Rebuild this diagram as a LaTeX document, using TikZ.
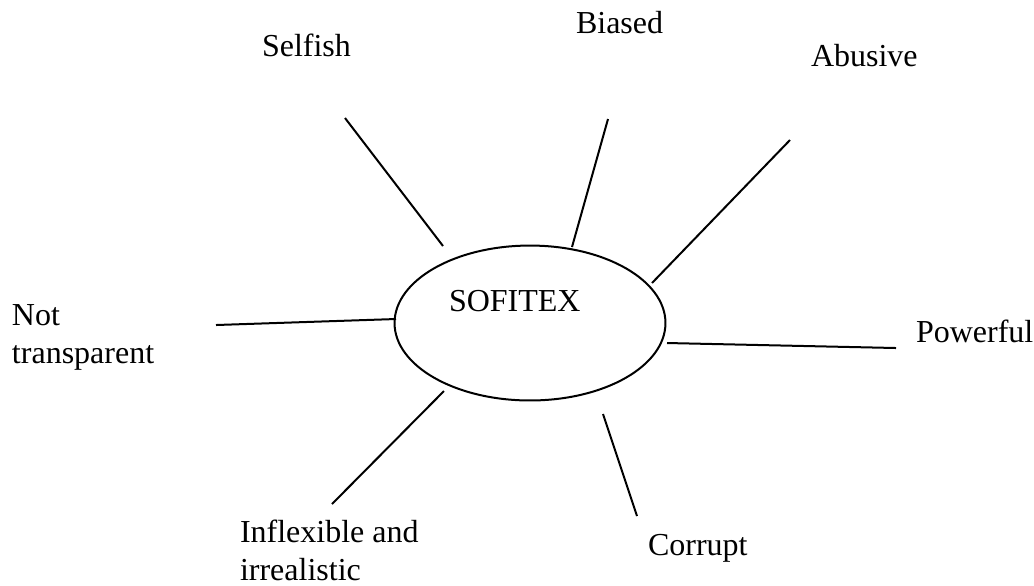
\documentclass[tikz,border=0pt]{standalone}
\usepackage{fontspec}
\setmainfont{Liberation Serif}
\usetikzlibrary{shapes.geometric}

\begin{document}
\begin{tikzpicture}[x=0.375pt,y=-0.375pt,line width=0.75pt,
  word/.style={inner sep=0pt,anchor=base west,align=left,
    font=\fontsize{12}{14.25}\selectfont}]

    \useasboundingbox (0,0) rectangle (1034,585);

    \node[ellipse,draw,inner sep=0pt,minimum width=101.6pt,minimum height=58.1pt] (sofitex) at (530,323) {};
    \node[word] (name) at (448,311) {SOFITEX};

    % two-line labels are placed by the baseline of their last line
    \node[word] (selfish) at (261,56) {Selfish};
    \node[word] (biased) at (575,33) {Biased};
    \node[word] (abusive) at (810,66) {Abusive};
    \node[word] (nottransp) at (11,363) {Not\\transparent};
    \node[word] (powerful) at (915,342) {Powerful};
    \node[word] (inflexible) at (239,580) {Inflexible and\\irrealistic};
    \node[word] (corrupt) at (647,555) {Corrupt};

    \coordinate (selfish out) at (345,118);
    \coordinate (selfish in) at (443,246);
    \coordinate (biased out) at (608,119);
    \coordinate (biased in) at (572,247);
    \coordinate (abusive out) at (790,140);
    \coordinate (abusive in) at (652,283);
    \coordinate (nottransp out) at (216,325);
    \coordinate (nottransp in) at (396,319);
    \coordinate (powerful out) at (896,348);
    \coordinate (powerful in) at (667,343);
    \coordinate (inflexible out) at (332,504);
    \coordinate (inflexible in) at (444,391);
    \coordinate (corrupt out) at (637,516);
    \coordinate (corrupt in) at (603,414);

    \draw (selfish out) -- (selfish in);
    \draw (biased out) -- (biased in);
    \draw (abusive out) -- (abusive in);
    \draw (nottransp out) -- (nottransp in);
    \draw (powerful out) -- (powerful in);
    \draw (inflexible out) -- (inflexible in);
    \draw (corrupt out) -- (corrupt in);
\end{tikzpicture}
\end{document}
